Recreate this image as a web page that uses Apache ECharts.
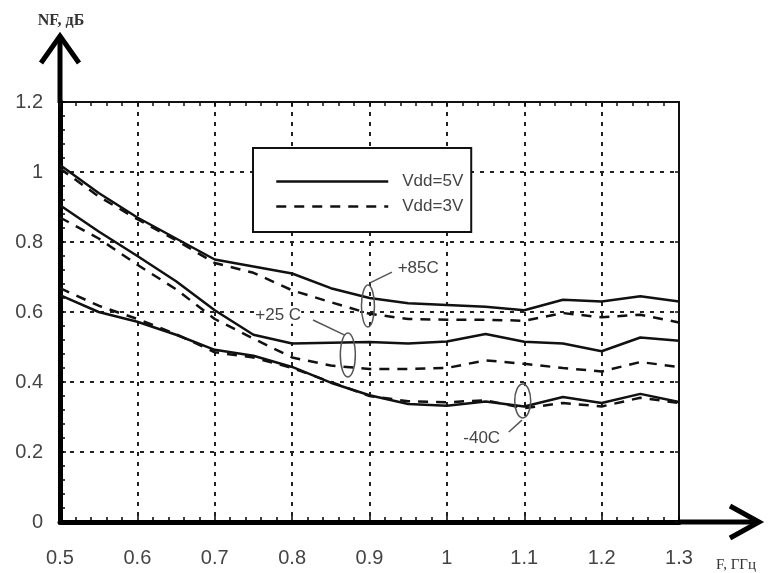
<!DOCTYPE html>
<html><head><meta charset="utf-8">
<script src="https://cdn.jsdelivr.net/npm/echarts@6/dist/echarts.min.js"></script>
<style>html,body{margin:0;padding:0;background:#fff}#c{width:772px;height:573px}</style>
</head><body><div id="c"></div>
<script>
// ---- data ----
const freq = [0.5,0.55,0.6,0.65,0.7,0.75,0.8,0.85,0.9,0.95,1.0,1.05,1.1,1.15,1.2,1.25,1.3];
const nf85_5V = [1.02,0.94,0.87,0.81,0.75,0.73,0.71,0.668,0.64,0.625,0.62,0.615,0.605,0.635,0.63,0.645,0.63];
const nf85_3V = [1.01,0.93,0.865,0.805,0.74,0.712,0.662,0.628,0.595,0.58,0.578,0.578,0.575,0.597,0.585,0.592,0.57];
const nf25_5V = [0.905,0.83,0.76,0.688,0.605,0.535,0.51,0.512,0.514,0.51,0.516,0.537,0.515,0.51,0.488,0.527,0.518];
const nf25_3V = [0.87,0.81,0.735,0.665,0.58,0.524,0.47,0.447,0.437,0.437,0.44,0.462,0.452,0.44,0.43,0.457,0.443];
const nf40_5V = [0.648,0.60,0.572,0.535,0.492,0.475,0.443,0.398,0.362,0.337,0.332,0.344,0.33,0.357,0.34,0.366,0.343];
const nf40_3V = [0.668,0.618,0.58,0.537,0.485,0.47,0.44,0.40,0.36,0.345,0.342,0.348,0.325,0.34,0.33,0.355,0.34];
const legendNames = ['Vdd=5V','Vdd=3V'];
const xName = 'F, ГГц';
const yName = 'NF, дБ';
const annotations = [
  {text:'+85C', ex:0.898, ey:0.617, rx:6.5, ry:21, l1:[0.9006,0.683], l2:[0.929,0.714], t:[0.963,0.726]},
  {text:'+25 C', ex:0.872, ey:0.477, rx:7.5, ry:22, l1:[0.827,0.577], l2:[0.868,0.534], t:[0.782,0.591]},
  {text:'-40C', ex:1.098, ey:0.346, rx:8, ry:17, l1:[1.097,0.291], l2:[1.080,0.257], t:[1.045,0.24]}
];

const pairs = ys => freq.map((f,i)=>[f, ys[i]]);
const FONT = 'Liberation Sans, Arial, sans-serif';
const solid = {color:'#111', width:2.5, type:'solid'};
const dashed = {color:'#111', width:2.5, type:[10,8]};
function mk(name, ys, ls){
  return {type:'line', name, data:pairs(ys), symbol:'none', showSymbol:false, smooth:false,
    lineStyle:ls, itemStyle:{color:'#111'}, animation:false, z:5};
}

const chart = echarts.init(document.getElementById('c'), null, {renderer:'canvas'});
const gridDot = {show:true, lineStyle:{color:'#222', width:2, type:[4,6]}};
const option = {
  backgroundColor:'#fff',
  animation:false,
  grid:{left:60, right:93, top:102, bottom:51, show:true, borderColor:'#111', borderWidth:2, backgroundColor:'transparent'},
  legend:{
    data:legendNames, orient:'vertical', left:253, top:148,
    itemWidth:112, itemHeight:14, itemGap:8,
    borderColor:'#111', borderWidth:2, padding:[25,8,17,22],
    backgroundColor:'#fff',
    itemStyle:{opacity:0},
    lineStyle:{width:2.5},
    textStyle:{fontSize:17, color:'#444', fontFamily:FONT, padding:[0,0,0,9]},
    selectedMode:false
  },
  xAxis:[
    {type:'value', min:0.5, max:1.3, interval:0.1, position:'bottom',
     axisLine:{show:true, onZero:false, lineStyle:{color:'#000', width:5}},
     axisTick:{show:true, inside:true, length:6, lineStyle:{color:'#000', width:1.5}},
     minorTick:{show:true, splitNumber:5, length:5, lineStyle:{color:'#000', width:1.5}},
     splitLine:gridDot,
     axisLabel:{fontSize:20, color:'#444', fontFamily:FONT, margin:26}},
    {type:'value', min:0.5, max:1.3, interval:0.1, position:'top',
     axisLine:{show:true, onZero:false, lineStyle:{color:'#111', width:2}},
     axisTick:{show:true, inside:true, length:5, lineStyle:{color:'#111', width:1.5}},
     minorTick:{show:true, splitNumber:5, length:4, lineStyle:{color:'#111', width:1.5}},
     splitLine:{show:false}, axisLabel:{show:false}}
  ],
  yAxis:[
    {type:'value', min:0, max:1.2, interval:0.2, position:'left',
     axisLine:{show:true, onZero:false, lineStyle:{color:'#000', width:5}},
     axisTick:{show:true, inside:true, length:6, lineStyle:{color:'#000', width:1.5}},
     minorTick:{show:true, splitNumber:5, length:5, lineStyle:{color:'#000', width:1.5}},
     splitLine:gridDot,
     axisLabel:{fontSize:20, color:'#444', fontFamily:FONT, margin:17}},
    {type:'value', min:0, max:1.2, interval:0.2, position:'right',
     axisLine:{show:true, onZero:false, lineStyle:{color:'#111', width:2}},
     axisTick:{show:true, inside:true, length:4, lineStyle:{color:'#111', width:1.5}},
     minorTick:{show:false},
     splitLine:{show:false}, axisLabel:{show:false}}
  ],
  series:[
    mk(legendNames[0], nf85_5V, solid),
    mk(legendNames[1], nf85_3V, dashed),
    mk(legendNames[0], nf25_5V, solid),
    mk(legendNames[1], nf25_3V, dashed),
    mk(legendNames[0], nf40_5V, solid),
    mk(legendNames[1], nf40_3V, dashed)
  ]
};
chart.setOption(option);

// decorations: axis arrows, axis names, annotations
const P = v => chart.convertToPixel({xAxisIndex:0, yAxisIndex:0}, v);
const o = P([0.5, 0]);
const tr = P([1.3, 1.2]);
const g = [];
const axisStroke = {stroke:'#000', lineWidth:5, lineJoin:'miter', lineCap:'butt'};
// y arrow
const yTip = [o[0], 33];
g.push({type:'line', shape:{x1:o[0], y1:tr[1]+1, x2:yTip[0], y2:yTip[1]+4}, style:axisStroke, z:10});
g.push({type:'polyline', shape:{points:[[yTip[0]-19, yTip[1]+30],[yTip[0], yTip[1]+3],[yTip[0]+19, yTip[1]+30]]}, style:Object.assign({fill:null}, axisStroke), z:10});
// x arrow
const xTip = [762, o[1]];
g.push({type:'line', shape:{x1:tr[0]-1, y1:o[1], x2:xTip[0]-4, y2:o[1]}, style:axisStroke, z:10});
g.push({type:'polyline', shape:{points:[[xTip[0]-32, o[1]-16],[xTip[0]-3, o[1]],[xTip[0]-32, o[1]+16]]}, style:Object.assign({fill:null}, axisStroke), z:10});
// axis names
g.push({type:'text', x:o[0]+1, y:21, style:{text:yName, font:'bold 16px "Liberation Serif", "DejaVu Serif", serif', fill:'#333', align:'center', verticalAlign:'middle'}, z:10});
g.push({type:'text', x:736, y:565, style:{text:xName, font:'15px "Liberation Serif", "DejaVu Serif", serif', fill:'#333', align:'center', verticalAlign:'middle'}, z:10});
// annotations
annotations.forEach(a=>{
  const c = P([a.ex, a.ey]);
  g.push({type:'ellipse', shape:{cx:c[0], cy:c[1], rx:a.rx, ry:a.ry}, style:{fill:null, stroke:'#555', lineWidth:1.5}, z:8});
  const p1 = P(a.l1), p2 = P(a.l2);
  g.push({type:'line', shape:{x1:p1[0], y1:p1[1], x2:p2[0], y2:p2[1]}, style:{stroke:'#555', lineWidth:1.5}, z:8});
  const t = P(a.t);
  g.push({type:'text', x:t[0], y:t[1], style:{text:a.text, font:'17px "Liberation Sans", Arial, sans-serif', fill:'#444', align:'center', verticalAlign:'middle', backgroundColor:'#fff'}, z:8});
});
chart.setOption({graphic:g});
</script></body></html>
